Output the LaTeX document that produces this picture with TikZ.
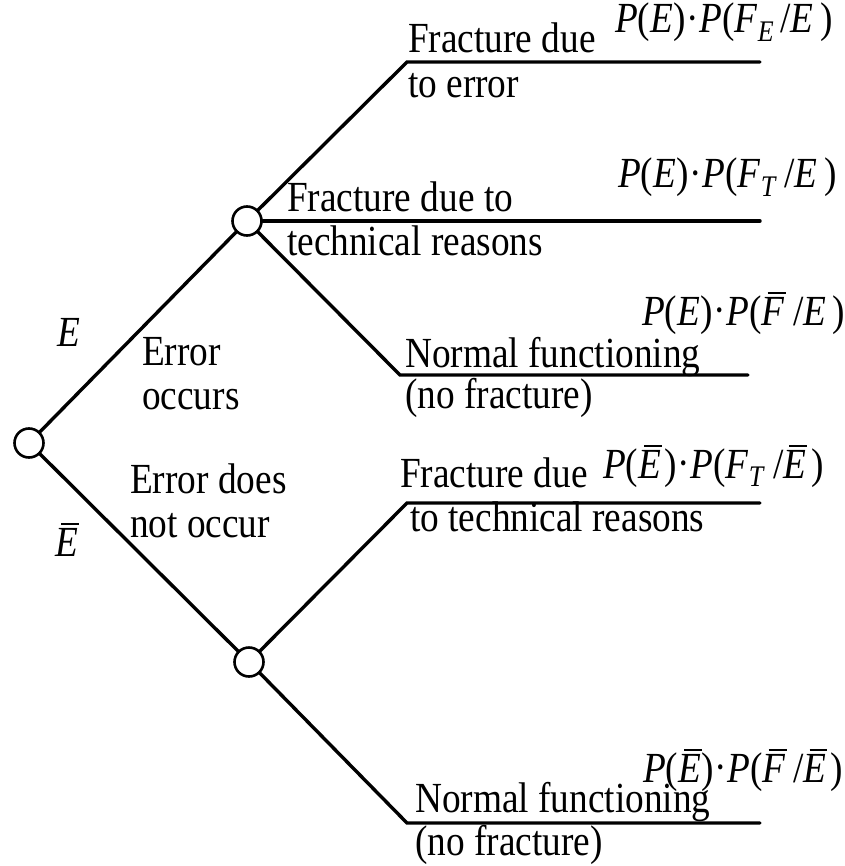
\documentclass[tikz,border=0pt]{standalone}
\usepackage{graphicx}
\usepackage{fontspec}
\setmainfont{Liberation Serif}
\newcommand{\vtx}[1]{\scalebox{1}[1.15]{#1}}
\newcommand{\itx}[1]{\textit{#1}}
\newcommand{\subx}[1]{\raisebox{-0.2em}{\fontsize{26}{26}\selectfont\textit{#1}}}
\newcommand{\barx}[1]{\leavevmode\hbox{\setbox0=\hbox{\textit{#1}}\rlap{\kern0.16em\raisebox{0.73em}{\rule{\dimexpr\wd0-0.14em\relax}{0.05em}}}\box0}}
\newcommand{\mdt}{\kern0.02em\raisebox{0.02em}{·}\kern0.02em}
\begin{document}
\begin{tikzpicture}[x=1pt,y=-1pt,
  branch/.style={line width=3.4pt, line join=miter, line cap=round},
  chance/.style={circle, draw, line width=2.6pt, minimum size=29pt, inner sep=0pt, fill=white},
  lbl/.style={anchor=base west, inner sep=0pt, font=\fontsize{37.3}{44}\selectfont}]
\useasboundingbox (0,0) rectangle (844,866);
% chance nodes
\node[chance] (root) at (29,443) {};
\node[chance] (up) at (247,221) {};
\node[chance] (dn) at (249,662) {};
% corners and ends
\coordinate (c1) at (407,62);  \coordinate (e1) at (760,62);
\coordinate (e2) at (760,221);
\coordinate (c3) at (400,375); \coordinate (e3) at (748,375);
\coordinate (c4) at (407,503); \coordinate (e4) at (760,503);
\coordinate (c5) at (407,823); \coordinate (e5) at (760,823);
% branches
\draw[branch] (root) -- (up);
\draw[branch] (root) -- (dn);
\draw[branch] (up) -- (c1) -- (e1);
\draw[branch] (up) -- (e2);
\draw[branch] (up) -- (c3) -- (e3);
\draw[branch] (dn) -- (c4) -- (e4);
\draw[branch] (dn) -- (c5) -- (e5);
% left labels
\node[lbl] (lE) at (57,346) {\vtx{\itx{E}}};
\node[lbl] (lEb) at (55,556) {\vtx{\barx{E}}};
\node[lbl] (occ1) at (142,365) {\vtx{Error}};
\node[lbl] (occ2) at (142,409) {\vtx{occurs}};
\node[lbl] (nocc1) at (130,493) {\vtx{Error does}};
\node[lbl] (nocc2) at (130,537) {\vtx{not occur}};
% branch 1
\node[lbl] (t1a) at (408,53) {\vtx{Fracture due}};
\node[lbl] (t1b) at (408,98) {\vtx{to error}};
\node[lbl] (p1) at (615,33) {\vtx{\itx{P}(\itx{E})\mdt\itx{P}(\itx{F}\subx{E}\kern0.18em/\itx{E}\kern0.18em)}};
% branch 2
\node[lbl] (t2a) at (287,212) {\vtx{Fracture due to}};
\node[lbl] (t2b) at (287,255) {\vtx{technical reasons}};
\node[lbl] (p2) at (618,188) {\vtx{\itx{P}(\itx{E})\mdt\itx{P}(\itx{F}\subx{T}\kern0.2em/\itx{E}\kern0.2em)}};
% branch 3
\node[lbl] (t3a) at (405,367) {\vtx{Normal functioning}};
\node[lbl] (t3b) at (405,408) {\vtx{(no fracture)}};
\node[lbl] (p3) at (642,325) {\vtx{\itx{P}(\itx{E})\mdt\itx{P}(\barx{F}\kern0.22em/\itx{E}\kern0.18em)}};
% branch 4
\node[lbl] (t4a) at (400,487) {\vtx{Fracture due}};
\node[lbl] (t4b) at (410,531) {\vtx{to technical reasons}};
\node[lbl] (p4) at (603,478) {\vtx{\itx{P}(\barx{E}\kern0.08em)\mdt\itx{P}(\itx{F}\subx{T}\kern0.22em/\barx{E}\kern0.15em)}};
% branch 5
\node[lbl] (t5a) at (415,812) {\vtx{Normal functioning}};
\node[lbl] (t5b) at (415,855) {\vtx{(no fracture)}};
\node[lbl] (p5) at (643,782) {\vtx{\itx{P}(\barx{E})\mdt\itx{P}(\barx{F}\kern0.2em/\barx{E}\kern0.1em)}};
\end{tikzpicture}
\end{document}
